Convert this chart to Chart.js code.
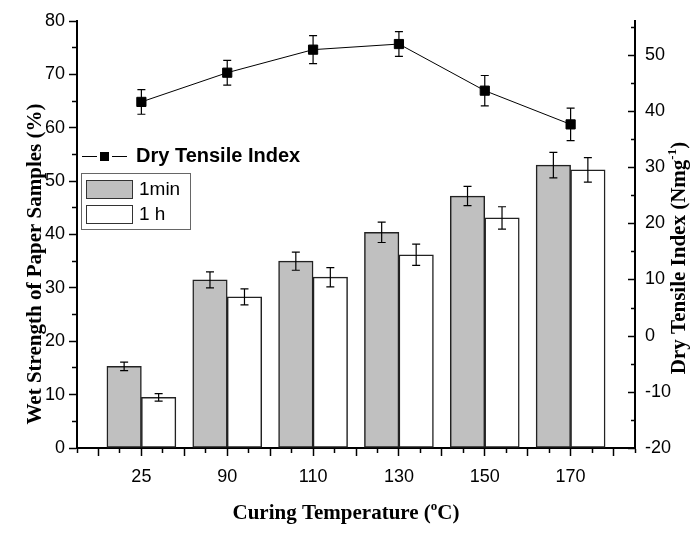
<!DOCTYPE html>
<html>
<head>
<meta charset="utf-8">
<script src="https://cdn.jsdelivr.net/npm/chart.js@4"></script>
<style>
html, body { margin: 0; padding: 0; background: #fff; }
</style>
</head>
<body>
<canvas id="chart_bar" width="693" height="546"></canvas>
<script>
// datos
var categorias = ["25", "90", "110", "130", "150", "170"];
var humedo_1min = [15.3, 31.5, 35.0, 40.4, 47.2, 53.0];
var error_1min = [0.8, 1.5, 1.7, 1.9, 1.8, 2.4];
var humedo_1h = [9.5, 28.3, 32.0, 36.2, 43.1, 52.1];
var error_1h = [0.7, 1.5, 1.8, 2.0, 2.1, 2.3];
var seco = [41.6, 46.8, 50.9, 51.9, 43.6, 37.6];
var error_seco = [2.2, 2.2, 2.5, 2.2, 2.7, 2.9];

function puntos(valores) {
    var arr = [];
    for (var i = 0; i < valores.length; i++) {
        arr.push({ x: i, y: valores[i] });
    }
    return arr;
}

function esMultiplo(v, paso) {
    var r = v / paso;
    return Math.abs(r - Math.round(r)) < 1e-6;
}

var fuenteTicks = { family: "Liberation Sans", size: 18 };

// texto con superindice (oC, Nmg-1)
function textoSup(c, partes, cx, cy) {
    var total = 0;
    partes.forEach(function(p) {
        c.font = p.sup ? "bold 13px 'Liberation Serif'" : "bold 21px 'Liberation Serif'";
        p.w = c.measureText(p.t).width;
        total += p.w;
    });
    var x = cx - total / 2;
    c.textAlign = "left";
    c.textBaseline = "middle";
    partes.forEach(function(p) {
        c.font = p.sup ? "bold 13px 'Liberation Serif'" : "bold 21px 'Liberation Serif'";
        c.fillText(p.t, x, p.sup ? cy - 7 : cy);
        x += p.w;
    });
}

var extras = {
    id: 'extras',
    afterDatasetsDraw: function(chart) {
        var c = chart.ctx;
        chart.data.datasets.forEach(function(ds, i) {
            var meta = chart.getDatasetMeta(i);
            var escala = chart.scales[ds.yAxisID];
            c.save();
            c.strokeStyle = "#000";
            c.lineWidth = 1.2;
            meta.data.forEach(function(el, j) {
                var v = ds.data[j].y, e = ds.errores[j];
                var yA = escala.getPixelForValue(v + e);
                var yB = escala.getPixelForValue(v - e);
                var x = el.x;
                c.beginPath();
                c.moveTo(x, yA); c.lineTo(x, yB);
                c.moveTo(x - 4, yA); c.lineTo(x + 4, yA);
                c.moveTo(x - 4, yB); c.lineTo(x + 4, yB);
                c.stroke();
            });
            c.restore();
        });
    },
    afterDraw: function(chart) {
        var c = chart.ctx;
        var area = chart.chartArea;
        c.save();
        c.fillStyle = "#000";
        c.strokeStyle = "#000";

        // ticks del eje derecho hacia dentro
        var y1 = chart.scales.y1;
        c.lineWidth = 1.5;
        y1.ticks.forEach(function(t) {
            var y = Math.round(y1.getPixelForValue(t.value)) + 0.5;
            var largo = esMultiplo(t.value, 10) ? 7 : 4;
            c.beginPath();
            c.moveTo(area.right, y);
            c.lineTo(area.right - largo, y);
            c.stroke();
        });

        // titulos de ejes
        c.save();
        c.translate(36, 264);
        c.rotate(-Math.PI / 2);
        textoSup(c, [{ t: "Wet Strength of Paper Samples (%)" }], 0, 0);
        c.restore();

        textoSup(c, [{ t: "Curing Temperature (" }, { t: "o", sup: true }, { t: "C)" }], 346, 514);

        c.save();
        c.translate(680, 258);
        c.rotate(-Math.PI / 2);
        textoSup(c, [{ t: "Dry Tensile Index (Nmg" }, { t: "-1", sup: true }, { t: ")" }], 0, 0);
        c.restore();

        // leyenda
        c.lineWidth = 1;
        c.beginPath();
        c.moveTo(82, 156.5); c.lineTo(97, 156.5);
        c.moveTo(112, 156.5); c.lineTo(127, 156.5);
        c.stroke();
        c.fillRect(100, 152, 9, 9);
        c.font = "bold 20px 'Liberation Sans'";
        c.textAlign = "left";
        c.textBaseline = "middle";
        c.fillText("Dry Tensile Index", 136, 156);

        c.strokeStyle = "#666";
        c.strokeRect(81.5, 173.5, 109, 56);
        c.strokeStyle = "#333";
        c.fillStyle = "#c0c0c0";
        c.fillRect(86, 180, 46, 18);
        c.strokeRect(86.5, 180.5, 46, 18);
        c.fillStyle = "#fff";
        c.fillRect(86, 205, 46, 18);
        c.strokeRect(86.5, 205.5, 46, 18);
        c.fillStyle = "#000";
        c.font = "19px 'Liberation Sans'";
        c.fillText("1min", 139, 190);
        c.fillText("1 h", 139, 215);
        c.restore();
    }
};

var canvas = document.getElementById('chart_bar').getContext('2d');
window.bar = new Chart(canvas, {
    type: "bar",
    data: {
        datasets: [{
                type: "line",
                label: "Dry Tensile Index",
                data: puntos(seco),
                errores: error_seco,
                yAxisID: "y1",
                borderColor: "#000",
                borderWidth: 1,
                pointStyle: "rect",
                pointRadius: 6.5,
                pointBackgroundColor: "#000",
                pointBorderColor: "#000",
                order: 0
            },
            {
                label: "1min",
                data: puntos(humedo_1min),
                errores: error_1min,
                yAxisID: "y",
                backgroundColor: "#c0c0c0",
                borderColor: "#222",
                borderWidth: 1.5,
                borderSkipped: false,
                order: 1
            },
            {
                label: "1 h",
                data: puntos(humedo_1h),
                errores: error_1h,
                yAxisID: "y",
                backgroundColor: "#ffffff",
                borderColor: "#222",
                borderWidth: 1.5,
                borderSkipped: false,
                order: 1
            }
        ]
    },
    options: {
        responsive: false,
        animation: false,
        barThickness: 34.5,
        layout: { padding: { top: 21, left: 0, right: 0, bottom: 0 } },
        plugins: {
            legend: { display: false },
            tooltip: { enabled: false }
        },
        scales: {
            x: {
                type: "linear",
                min: -0.75,
                max: 5.75,
                offset: false,
                grid: {
                    offset: false,
                    drawOnChartArea: false,
                    tickLength: 8,
                    tickColor: "#000",
                    tickWidth: 1.5,
                    tickBorderDash: function(c) {
                        return (c.tick && esMultiplo(c.tick.value, 0.5)) ? [] : [4, 100];
                    }
                },
                border: { display: true, color: "#000", width: 2 },
                ticks: {
                    stepSize: 0.25,
                    autoSkip: false,
                    maxRotation: 0,
                    maxTicksLimit: 100,
                    includeBounds: false,
                    padding: 10,
                    color: "#000",
                    font: fuenteTicks,
                    callback: function(v) {
                        return esMultiplo(v, 1) ? (categorias[Math.round(v)] || "") : "";
                    }
                },
                afterFit: function(s) { s.height = 98; }
            },
            y: {
                position: "left",
                min: 0,
                max: 80,
                grid: {
                    drawOnChartArea: false,
                    tickLength: 8,
                    tickColor: "#000",
                    tickWidth: 1.5,
                    tickBorderDash: function(c) {
                        return (c.tick && esMultiplo(c.tick.value, 10)) ? [] : [4, 3];
                    },
                    tickBorderDashOffset: function(c) {
                        return (c.tick && esMultiplo(c.tick.value, 10)) ? 0 : 4;
                    }
                },
                border: { display: true, color: "#000", width: 2 },
                ticks: {
                    stepSize: 5,
                    padding: 4,
                    color: "#000",
                    font: fuenteTicks,
                    callback: function(v) { return esMultiplo(v, 10) ? v : ""; }
                },
                afterFit: function(s) { s.width = 77; }
            },
            y1: {
                position: "right",
                min: -20,
                max: 56,
                grid: { drawOnChartArea: false, drawTicks: false },
                border: { display: true, color: "#000", width: 2 },
                ticks: {
                    stepSize: 5,
                    includeBounds: false,
                    padding: 10,
                    color: "#000",
                    font: fuenteTicks,
                    callback: function(v) { return esMultiplo(v, 10) ? v : ""; }
                },
                afterFit: function(s) { s.width = 58; }
            }
        }
    },
    plugins: [extras]
});
</script>
</body>
</html>
